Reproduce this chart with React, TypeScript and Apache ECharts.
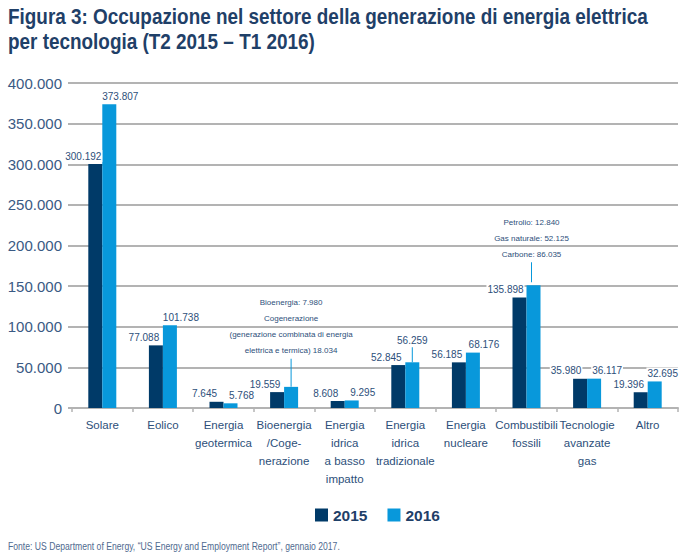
import React, { useEffect, useRef } from "react";
import * as echarts from "echarts";

const categories = [
  "Solare",
  "Eolico",
  "Energia\ngeotermica",
  "Bioenergia\n/Coge-\nnerazione",
  "Energia\nidrica\na basso\nimpatto",
  "Energia\nidrica\ntradizionale",
  "Energia\nnucleare",
  "Combustibili\nfossili",
  "Tecnologie\navanzate\ngas",
  "Altro",
];
const values2015 = [300192, 77088, 7645, 19559, 8608, 52845, 56185, 135898, 35980, 19396];
const values2016 = [373807, 101738, 5768, 26014, 9295, 56259, 68176, 151000, 36117, 32695];
const yTicks = { min: 0, max: 400000, interval: 50000 };
const bioParts = { bioenergia: 7980, cogenerazione: 18034 };
const fossilParts = { petrolio: 12840, gasNaturale: 52125, carbone: 86035 };
const seriesNames = ["2015", "2016"];
const titleLines = [
  "Figura 3: Occupazione nel settore della generazione di energia elettrica",
  "per tecnologia (T2 2015 – T1 2016)",
];
const sourceText = "Fonte: US Department of Energy, “US Energy and Employment Report”, gennaio 2017.";

const SANS = "'Liberation Sans', Arial, sans-serif";
const TEXT = "#2d4f7a";
const DARK = "#003a68";
const LIGHT = "#0898db";
const GRID = "#b3b3b3";

const fmt = (v: number) => (v === 0 ? "0" : (v / 1000).toFixed(3));

export default function App() {
  const ref = useRef<HTMLDivElement>(null);
  useEffect(() => {
    document.body.style.margin = "0";
    const chart = echarts.init(ref.current!, null, { renderer: "svg" });
    const baseLabel = {
      show: true,
      position: "top",
      distance: 2,
      fontSize: 10,
      fontFamily: SANS,
      color: TEXT,
      backgroundColor: "#fff",
      padding: [1, 1],
      formatter: (p: any) => fmt(p.value),
    };
    const richBase = {
      t: { fontSize: 8, fontFamily: SANS, color: TEXT, lineHeight: 16, backgroundColor: "#fff" },
      v: { fontSize: 10, fontFamily: SANS, color: TEXT, lineHeight: 14, backgroundColor: "#fff" },
    };
    const data2016 = values2016.map((v, i) => {
      if (i === 3) {
        return {
          value: v,
          label: {
            offset: [0, 0],
            distance: 0,
            backgroundColor: "transparent",
            padding: 0,
            formatter:
              `{t|Bioenergia: ${fmt(bioParts.bioenergia)}}\n{t|Cogenerazione}\n{t|(generazione combinata di energia}\n{t|elettrica e termica) ${fmt(bioParts.cogenerazione)}}\n{l|}`,
            rich: { ...richBase, l: { width: 1, height: 28, lineHeight: 28, backgroundColor: LIGHT } },
          },
        };
      }
      if (i === 7) {
        return {
          value: v,
          label: {
            offset: [-2, 0],
            distance: 3,
            backgroundColor: "transparent",
            padding: 0,
            formatter:
              `{t|Petrolio: ${fmt(fossilParts.petrolio)}}\n{t|Gas naturale: ${fmt(fossilParts.gasNaturale)}}\n{t|Carbone: ${fmt(fossilParts.carbone)}}\n{l|}`,
            rich: { ...richBase, l: { width: 1, height: 20, lineHeight: 20, backgroundColor: LIGHT } },
          },
        };
      }
      if (i === 5) {
        return {
          value: v,
          label: {
            offset: [0, 0],
            distance: 0,
            backgroundColor: "transparent",
            padding: 0,
            formatter: `{v|${fmt(v)}}\n{l|}`,
            rich: { ...richBase, l: { width: 1, height: 15, lineHeight: 15, backgroundColor: LIGHT } },
          },
        };
      }
      if (i === 8) return { value: v, label: { offset: [13, 0] } };
      if (i === 9) return { value: v, label: { offset: [8, 0] } };
      return v;
    });
    const data2015 = values2015.map((v, i) => {
      if (i === 7) return { value: v, label: { offset: [-14, 0] } };
      if (i === 8) return { value: v, label: { offset: [-14, 0] } };
      return v;
    });

    chart.setOption({
      animation: false,
      graphic: [
        {
          type: "text",
          x: 8,
          y: 5,
          scaleX: 0.86,
          style: {
            text: titleLines[0],
            font: `bold 22px ${SANS}`,
            fill: "#1f4068",
            verticalAlign: "top",
          },
        },
        {
          type: "text",
          x: 8,
          y: 30,
          scaleX: 0.86,
          style: {
            text: titleLines[1],
            font: `bold 22px ${SANS}`,
            fill: "#1f4068",
            verticalAlign: "top",
          },
        },
        {
          type: "text",
          x: 8,
          y: 540,
          scaleX: 0.75,
          style: {
            text: sourceText,
            font: `11.5px ${SANS}`,
            fill: "#4f6a8f",
            verticalAlign: "top",
          },
        },
      ],
      legend: {
        data: seriesNames,
        left: 310,
        top: 502,
        icon: "rect",
        itemWidth: 13,
        itemHeight: 13,
        itemGap: 20,
        textStyle: { fontFamily: SANS, fontWeight: "bold", fontSize: 15.5, color: "#1f4068" },
      },
      grid: { left: 72, right: 2, top: 83, bottom: 150, containLabel: false },
      xAxis: {
        type: "category",
        data: categories,
        axisLine: { show: true, lineStyle: { color: GRID, width: 2 } },
        axisTick: { show: true, length: 4, lineStyle: { color: GRID, width: 1.5 } },
        axisLabel: {
          interval: 0,
          margin: 8,
          fontFamily: SANS,
          fontSize: 11.5,
          lineHeight: 18,
          color: TEXT,
        },
      },
      yAxis: {
        type: "value",
        min: yTicks.min,
        max: yTicks.max,
        interval: yTicks.interval,
        axisLine: { show: false },
        axisTick: { show: true, length: 4, lineStyle: { color: GRID, width: 2 } },
        splitLine: { show: true, lineStyle: { color: GRID, width: 2 } },
        axisLabel: {
          margin: 10,
          fontFamily: SANS,
          fontSize: 15,
          color: "#3a5a84",
          formatter: (v: number) => fmt(v),
        },
      },
      series: [
        {
          name: seriesNames[0],
          type: "bar",
          data: data2015,
          barWidth: 14,
          barGap: "0%",
          itemStyle: { color: DARK },
          label: { ...baseLabel, offset: [-12, 0] },
        },
        {
          name: seriesNames[1],
          type: "bar",
          data: data2016,
          barWidth: 14,
          barGap: "0%",
          itemStyle: { color: LIGHT },
          label: { ...baseLabel, offset: [11, 0] },
        },
      ],
    });
    return () => chart.dispose();
  }, []);
  return <div ref={ref} style={{ width: 680, height: 558 }} />;
}
